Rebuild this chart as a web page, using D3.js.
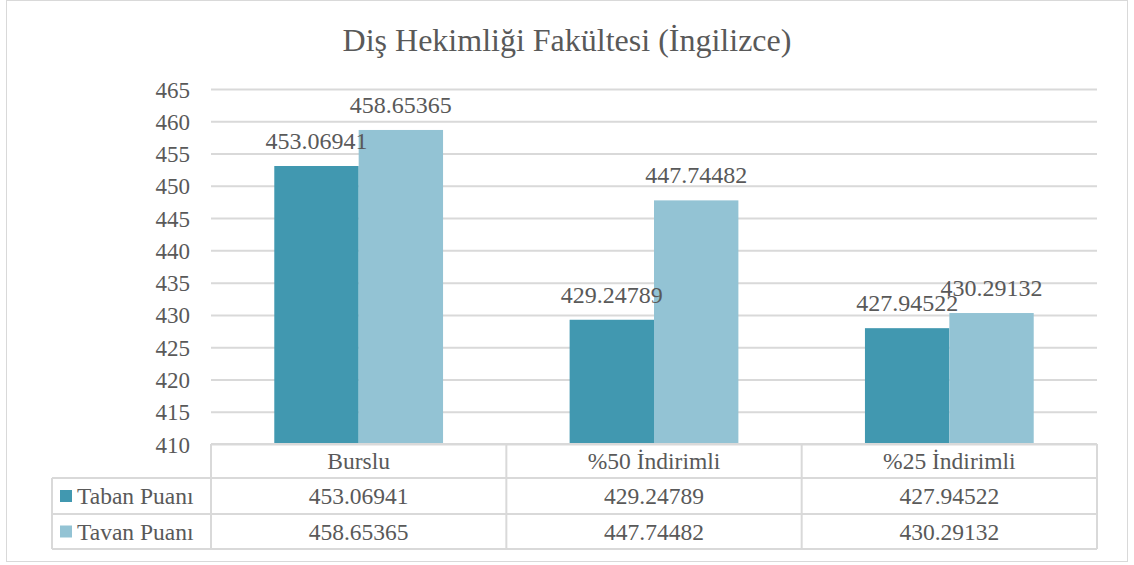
<!DOCTYPE html>
<html>
<head>
<meta charset="utf-8">
<script src="https://cdn.jsdelivr.net/npm/d3@7"></script>
<style>
  body { margin: 0; background: #fff; }
  text { font-family: "Liberation Serif", "Times New Roman", serif; fill: #595959; }
</style>
</head>
<body>
<div id="vis1"></div>
<script>
const TITLE = "Diş Hekimliği Fakültesi (İngilizce)";
const CATEGORIES = ["Burslu", "%50 İndirimli", "%25 İndirimli"];
const SERIES_NAMES = ["Taban Puanı", "Tavan Puanı"];
const TABAN = [453.06941, 429.24789, 427.94522];
const TAVAN = [458.65365, 447.74482, 430.29132];
const Y_TICKS = [410, 415, 420, 425, 430, 435, 440, 445, 450, 455, 460, 465];
const COLORS = ["#4198b0", "#93c3d4"];

const FRAME_WIDTH = 1134;
const FRAME_HEIGHT = 565;
const PLOT = {left: 211, right: 1097, top: 89, bottom: 444};
const ROW_H = [34, 36, 35];
const LEGEND_LEFT = 52;

const FRAME = d3.select("#vis1")
  .append("svg")
    .attr("width", FRAME_WIDTH)
    .attr("height", FRAME_HEIGHT);

// outer border
FRAME.append("rect")
  .attr("x", 6.5).attr("y", 0.5)
  .attr("width", 1121).attr("height", 561)
  .attr("fill", "none")
  .attr("stroke", "#d9d9d9");

FRAME.append("text")
  .attr("x", 567).attr("y", 51)
  .attr("text-anchor", "middle")
  .attr("font-size", "32px")
  .text(TITLE);

const X_SCALE = d3.scaleBand()
  .domain(CATEGORIES)
  .range([PLOT.left, PLOT.right]);

const X_INNER = d3.scaleBand()
  .domain(SERIES_NAMES)
  .range([0, X_SCALE.bandwidth()])
  .paddingInner(0)
  .paddingOuter(0.75);

const Y_SCALE = d3.scaleLinear()
  .domain([410, 465])
  .range([PLOT.bottom, PLOT.top]);

// gridlines + tick labels
const yAxis = FRAME.append("g")
  .attr("transform", "translate(" + PLOT.left + ",0)")
  .call(d3.axisLeft(Y_SCALE).tickValues(Y_TICKS).tickSize(-(PLOT.right - PLOT.left)).tickPadding(21));
yAxis.select(".domain").remove();
yAxis.selectAll(".tick line").attr("stroke", "#d9d9d9").attr("stroke-width", 2);
yAxis.selectAll(".tick text")
  .attr("font-size", "23px")
  .attr("font-family", "Liberation Serif")
  .attr("fill", "#595959")
  .attr("dy", "0.35em");

const data = CATEGORIES.map((c, i) => ({cat: c, vals: [TABAN[i], TAVAN[i]]}));

const groups = FRAME.selectAll(".grp")
  .data(data)
  .enter()
  .append("g")
    .attr("transform", (d) => "translate(" + X_SCALE(d.cat) + ",0)");

groups.selectAll("rect")
  .data((d) => d.vals.map((v, j) => ({name: SERIES_NAMES[j], v: v, j: j})))
  .enter()
  .append("rect")
    .attr("x", (d) => X_INNER(d.name))
    .attr("y", (d) => Y_SCALE(d.v))
    .attr("width", X_INNER.bandwidth())
    .attr("height", (d) => Y_SCALE(410) - Y_SCALE(d.v))
    .attr("fill", (d) => COLORS[d.j]);

groups.selectAll(".lbl")
  .data((d) => d.vals.map((v, j) => ({name: SERIES_NAMES[j], v: v, j: j})))
  .enter()
  .append("text")
    .attr("x", (d) => X_INNER(d.name) + X_INNER.bandwidth() / 2)
    .attr("y", (d) => Y_SCALE(d.v) - 17)
    .attr("text-anchor", "middle")
    .attr("font-size", "24px")
    .text((d) => d.v.toFixed(5));

// data table
const rowTop = [PLOT.bottom, PLOT.bottom + ROW_H[0], PLOT.bottom + ROW_H[0] + ROW_H[1]];
const tableBottom = rowTop[2] + ROW_H[2];
const TABLE = FRAME.append("g").attr("stroke", "#d9d9d9").attr("stroke-width", 2);

TABLE.append("line").attr("x1", PLOT.left).attr("x2", PLOT.right).attr("y1", rowTop[0]).attr("y2", rowTop[0]);
[rowTop[1], rowTop[2], tableBottom].forEach((y) => {
  TABLE.append("line").attr("x1", LEGEND_LEFT).attr("x2", PLOT.right).attr("y1", y).attr("y2", y);
});
X_SCALE.domain().forEach((c) => {
  TABLE.append("line").attr("x1", X_SCALE(c)).attr("x2", X_SCALE(c)).attr("y1", rowTop[0]).attr("y2", tableBottom);
});
TABLE.append("line").attr("x1", PLOT.right).attr("x2", PLOT.right).attr("y1", rowTop[0]).attr("y2", tableBottom);
TABLE.append("line").attr("x1", LEGEND_LEFT).attr("x2", LEGEND_LEFT).attr("y1", rowTop[1]).attr("y2", tableBottom);

FRAME.selectAll(".cat")
  .data(CATEGORIES)
  .enter()
  .append("text")
    .attr("x", (d) => X_SCALE(d) + X_SCALE.bandwidth() / 2)
    .attr("y", rowTop[0] + ROW_H[0] / 2)
    .attr("dy", "0.35em")
    .attr("text-anchor", "middle")
    .attr("font-size", "23.5px")
    .text((d) => d);

[TABAN, TAVAN].forEach((vals, j) => {
  const yMid = rowTop[j + 1] + ROW_H[j + 1] / 2;
  FRAME.append("rect")
    .attr("x", 60).attr("y", yMid - 6)
    .attr("width", 12).attr("height", 12)
    .attr("fill", COLORS[j]);
  FRAME.append("text")
    .attr("x", 77).attr("y", yMid)
    .attr("dy", "0.35em")
    .attr("font-size", "23.5px")
    .text(SERIES_NAMES[j]);
  FRAME.selectAll(".v" + j)
    .data(vals)
    .enter()
    .append("text")
      .attr("x", (d, i) => X_SCALE(CATEGORIES[i]) + X_SCALE.bandwidth() / 2)
      .attr("y", yMid)
      .attr("dy", "0.35em")
      .attr("text-anchor", "middle")
      .attr("font-size", "23.5px")
      .text((d) => d.toFixed(5));
});
</script>
</body>
</html>
